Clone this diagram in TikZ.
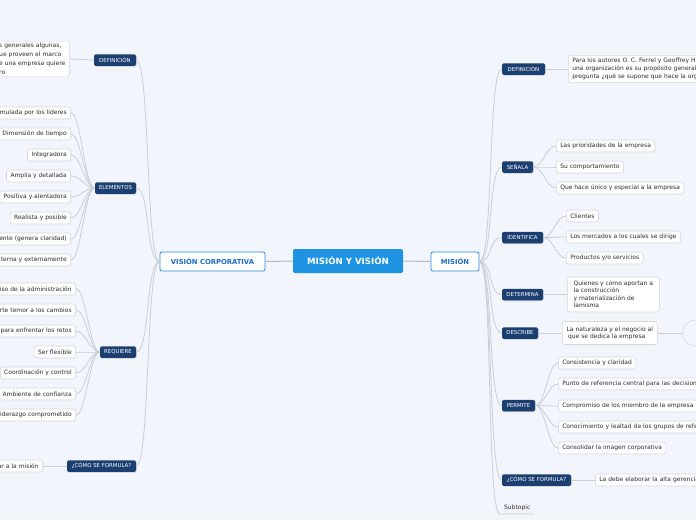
\documentclass[tikz,border=0pt]{standalone}
\usepackage{fontspec}
\setmainfont{DejaVu Sans}
\usetikzlibrary{shadows}
\definecolor{bg}{HTML}{F3F5FC}
\definecolor{subblue}{HTML}{1C3F72}
\definecolor{mainblue}{HTML}{1E93E2}
\definecolor{topicblue}{HTML}{2A8AE2}
\definecolor{topictext}{HTML}{1E6CC4}
\definecolor{linegray}{HTML}{C9CDD6}
\definecolor{leafborder}{HTML}{D3D6DD}
\definecolor{txt}{HTML}{2B2B2B}
\tikzset{
  leaf/.style={draw=leafborder, fill=white, rounded corners=2.5pt, text=txt,
    font=\fontsize{6}{8.5}\selectfont, inner xsep=4pt, inner ysep=0pt,
    minimum height=12pt, line width=0.6pt},
  cutl/.style={leaf, text width=#1, align=right},
  cutr/.style={leaf, text width=#1, align=left},
  multi/.style={leaf, align=left, inner ysep=2pt},
  sub/.style={fill=subblue, text=white, rounded corners=1.5pt,
    font=\fontsize{5.4}{6}\selectfont, inner xsep=2pt, inner ysep=0pt,
    minimum height=11.5pt,
    drop shadow={shadow xshift=0.6pt, shadow yshift=-0.8pt, opacity=0.35}},
  topic/.style={draw=topicblue, fill=white, rounded corners=2pt, text=topictext,
    font=\bfseries\fontsize{6.8}{8}\selectfont, minimum height=19pt,
    inner xsep=2pt, line width=0.8pt},
  center/.style={fill=mainblue, text=white, rounded corners=2pt,
    font=\bfseries\fontsize{8.6}{10}\selectfont, minimum height=24pt,
    minimum width=110pt},
  conn/.style={draw=linegray, line width=0.8pt},
  mainconn/.style={draw=linegray!90!black, line width=1pt},
}
\newcommand\mmR[3][14]{\draw[conn] (#2) .. controls +(#1,0) and +(-#1,0) .. (#3);}
\newcommand\mmL[3][14]{\draw[conn] (#2) .. controls +(-#1,0) and +(#1,0) .. (#3);}
\begin{document}
\begin{tikzpicture}[x=1pt,y=-1pt]
\useasboundingbox (0,0) rectangle (696,520);
\fill[bg] (0,0) rectangle (696,520);
\clip (0,0) rectangle (696,520);

% central and topics
\node[center] (mv) at (348,261) {MISIÓN Y VISIÓN};
\node[topic, minimum width=105pt] (vc) at (212.5,261.5) {VISIÓN CORPORATIVA};
\node[topic, minimum width=48pt] (mi) at (455,261.5) {MISIÓN};
\draw[mainconn] (mv.west) -- (vc.east);
\draw[mainconn] (mv.east) -- (mi.west);

% left subtopics
\node[sub, minimum width=42pt] (defl) at (115,60) {DEFINICIÓN};
\node[sub, minimum width=41pt] (elem) at (115.5,188) {ELEMENTOS};
\node[sub, minimum width=36pt] (req) at (118,352) {REQUIERE};
\node[sub, minimum width=69pt] (comol) at (101.5,466) {¿CÓMO SE FORMULA?};
\mmL{vc.west}{defl.east}
\mmL{vc.west}{elem.east}
\mmL{vc.west}{req.east}
\mmL{vc.west}{comol.east}

% left leaves
\node[multi, text width=66.5pt, font=\fontsize{6}{9}\selectfont, anchor=east] (dl) at (70,59)
  {s generales algunas,\\ue proveen el marco\\e una empresa quiere\\ro};
\draw[conn] (defl.west) -- (dl.east);

\node[cutl=80pt, anchor=east] (e1) at (71,113) {mulada por los líderes};
\node[leaf, anchor=east] (e2) at (71,134) {Dimensión de tiempo};
\node[leaf, anchor=east] (e3) at (71,155) {Integradora};
\node[leaf, anchor=east] (e4) at (71,176) {Amplia y detallada};
\node[leaf, anchor=east] (e5) at (71,197) {Positiva y alentadora};
\node[leaf, anchor=east] (e6) at (71,218) {Realista y posible};
\node[cutl=80pt, anchor=east] (e7) at (71,239) {ente (genera claridad)};
\node[cutl=80pt, anchor=east] (e8) at (71,260) {terna y externamente};
\foreach \n in {e1,e2,e3,e4,e5,e6,e7,e8}{\mmL[10]{elem.west}{\n.east}}

\node[cutl=85pt, anchor=east] (r1) at (76,289) {iso de la administración};
\node[cutl=85pt, anchor=east] (r2) at (76,310) {rte temor a los cambios};
\node[cutl=85pt, anchor=east] (r3) at (76,331) {para enfrentar los retos};
\node[leaf, anchor=east] (r4) at (76,352) {Ser flexible};
\node[leaf, anchor=east] (r5) at (76,373) {Coordinación y control};
\node[leaf, anchor=east] (r6) at (76,394) {Ambiente de confianza};
\node[cutl=85pt, anchor=east] (r7) at (76,415) {iderazgo comprometido};
\foreach \n in {r1,r2,r3,r4,r5,r6,r7}{\mmL[10]{req.west}{\n.east}}

\node[cutl=50pt, anchor=east] (cl) at (43,466) {ar a la misión};
\draw[conn] (comol.west) -- (cl.east);

% right subtopics
\node[sub, minimum width=43pt] (defr) at (523.5,69) {DEFINICIÓN};
\node[sub, minimum width=31pt] (sen) at (517.5,167) {SEÑALA};
\node[sub, minimum width=41pt] (ide) at (522.5,237.5) {IDENTIFICA};
\node[sub, minimum width=41pt] (det) at (522.5,294.5) {DETERMINA};
\node[sub, minimum width=36pt] (des) at (520,333) {DESCRIBE};
\node[sub, minimum width=33pt] (per) at (518.5,405.5) {PERMITE};
\node[sub, minimum width=69pt] (comor) at (536.5,480) {¿CÓMO SE FORMULA?};
\node[text=txt, font=\fontsize{6}{7}\selectfont, inner sep=0pt, minimum width=34pt,
  minimum height=11pt, anchor=south west] (subt) at (500,514) {Subtopic};
\foreach \n in {defr,sen,ide,det,des,per,comor}{\mmR{mi.east}{\n.west}}
\draw[conn] (mi.east) .. controls +(14,0) and +(-14,0) .. (subt.south west) -- (subt.south east);

% right leaves
\node[cutr=200pt, font=\fontsize{6}{8.2}\selectfont, inner ysep=2.5pt, anchor=west] (dr) at (568,69)
  {Para los autores O. C. Ferrel y Geoffrey Hirt, la\\una organización es su propósito general, o\\pregunta ¿qué se supone que hace la organización?};
\draw[conn] (defr.east) -- (dr.west);

\node[leaf, anchor=west] (s1) at (556,146) {Las prioridades de la empresa};
\node[leaf, anchor=west] (s2) at (556,167) {Su comportamiento};
\node[leaf, anchor=west] (s3) at (556,188) {Que hace único y especial a la empresa};
\foreach \n in {s1,s2,s3}{\mmR[10]{sen.east}{\n.west}}

\node[leaf, anchor=west] (i1) at (566,216) {Clientes};
\node[leaf, anchor=west] (i2) at (566,237) {Los mercados a los cuales se dirige};
\node[leaf, anchor=west] (i3) at (566,258) {Productos y/o servicios};
\foreach \n in {i1,i2,i3}{\mmR[10]{ide.east}{\n.west}}

\node[multi, font=\fontsize{6}{7.5}\selectfont, minimum height=35pt, minimum width=92pt, anchor=west] (d1) at (567,294.5)
  {Quienes y como aportan a\\la construcción\\y materialización de\\lamisma};
\draw[conn] (det.east) -- (d1.west);

\node[multi, font=\fontsize{6}{7.3}\selectfont, minimum height=23pt, minimum width=95pt, anchor=west] (ds) at (562,333)
  {La naturaleza y el negocio al\\\hspace*{1.5pt}que se dedica la empresa};
\draw[conn] (des.east) -- (ds.west);
\node[draw=leafborder, line width=0.6pt, rounded corners=13pt, minimum width=70pt,
  minimum height=26pt, anchor=west] (gh) at (682,333) {};
\draw[conn] (ds.east) -- (gh.west);

\node[leaf, anchor=west] (p1) at (558,363) {Consistencia y claridad};
\node[cutr=160pt, anchor=west] (p2) at (558,384) {Punto de referencia central para las decisiones};
\node[leaf, anchor=west] (p3) at (558,406) {Compromiso de los miembro de la empresa};
\node[cutr=170pt, anchor=west] (p4) at (558,427) {Conocimiento y lealtad de los grupos de referencia};
\node[leaf, anchor=west] (p5) at (558,448) {Consolidar la imagen corporativa};
\foreach \n in {p1,p2,p3,p4,p5}{\mmR[10]{per.east}{\n.west}}

\node[cutr=130pt, anchor=west] (c1) at (595,480) {La debe elaborar la alta gerencia};
\draw[conn] (comor.east) -- (c1.west);
\end{tikzpicture}
\end{document}
